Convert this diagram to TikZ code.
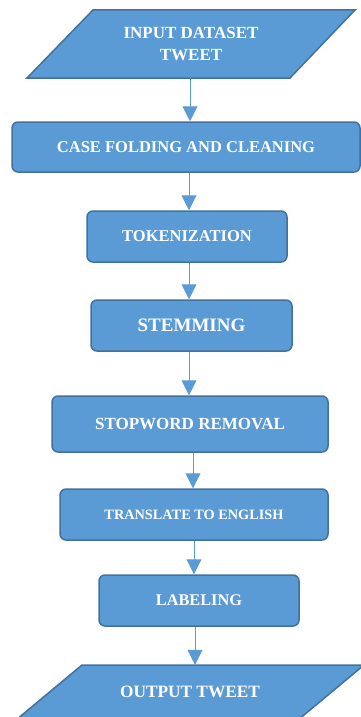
\documentclass[tikz,border=0pt]{standalone}
\usepackage{fontspec}
\setmainfont{Liberation Serif}
\usetikzlibrary{arrows.meta}
\definecolor{boxfill}{HTML}{5B9BD5}
\definecolor{boxline}{HTML}{41719C}
\begin{document}
\begin{tikzpicture}[x=1pt,y=-1pt,
  stepbox/.style={draw=boxline, fill=boxfill, line width=1.5pt, rounded corners=6pt, text=white, inner sep=0pt, align=center},
  iolabel/.style={text=white, inner sep=0pt, align=center},
  ioshape/.style={draw=boxline, fill=boxfill, line width=1.5pt, line join=miter},
  arr/.style={draw=boxfill, line width=1pt, -{Triangle[length=15pt,width=15pt]}}
]
\useasboundingbox (0,0) rectangle (361,717);

% input parallelogram
\draw[ioshape] (93,10) -- (355,10) -- (290,78) -- (27,78) -- cycle;
\node[iolabel, minimum height=68pt, font=\fontsize{17}{22}\selectfont\bfseries] (in) at (191,44) {INPUT DATASET\\TWEET};

\node[stepbox, minimum width=348pt, minimum height=50pt, font=\fontsize{16.5}{18}\selectfont\bfseries] (case) at (186,147) {CASE FOLDING AND CLEANING};
\node[stepbox, minimum width=200pt, minimum height=51pt, font=\fontsize{16.5}{18}\selectfont\bfseries] (tok) at (187,236.5) {TOKENIZATION};
\node[stepbox, minimum width=201pt, minimum height=51pt, font=\fontsize{19}{21}\selectfont\bfseries] (stem) at (191.5,325.5) {STEMMING};
\node[stepbox, minimum width=276pt, minimum height=56pt, font=\fontsize{17}{19}\selectfont\bfseries] (stop) at (190,424) {STOPWORD REMOVAL};
\node[stepbox, minimum width=268pt, minimum height=51pt, font=\fontsize{14.3}{16}\selectfont\bfseries] (trans) at (194,514.5) {TRANSLATE TO ENGLISH};
\node[stepbox, minimum width=200pt, minimum height=51pt, font=\fontsize{16.3}{18}\selectfont\bfseries] (lab) at (199,600.5) {LABELING};

% output parallelogram
\draw[ioshape] (82,665) -- (364,665) -- (298,720) -- (16,720) -- cycle;
\node[iolabel, minimum height=54pt, font=\fontsize{17.3}{20}\selectfont\bfseries] (out) at (190,692) {OUTPUT TWEET};

% connectors
\coordinate (xa) at (190,0);
\coordinate (xb) at (189,0);
\coordinate (xc) at (193,0);
\coordinate (xd) at (194,0);
\coordinate (xe) at (195,0);
\draw[arr] (in.south -| xa) -- (case.north -| xa);
\draw[arr] (case.south -| xb) -- (tok.north -| xb);
\draw[arr] (tok.south -| xb) -- (stem.north -| xb);
\draw[arr] (stem.south -| xb) -- (stop.north -| xb);
\draw[arr] (stop.south -| xc) -- (trans.north -| xc);
\draw[arr] (trans.south -| xd) -- (lab.north -| xd);
\draw[arr] (lab.south -| xe) -- (out.north -| xe);
\end{tikzpicture}
\end{document}
